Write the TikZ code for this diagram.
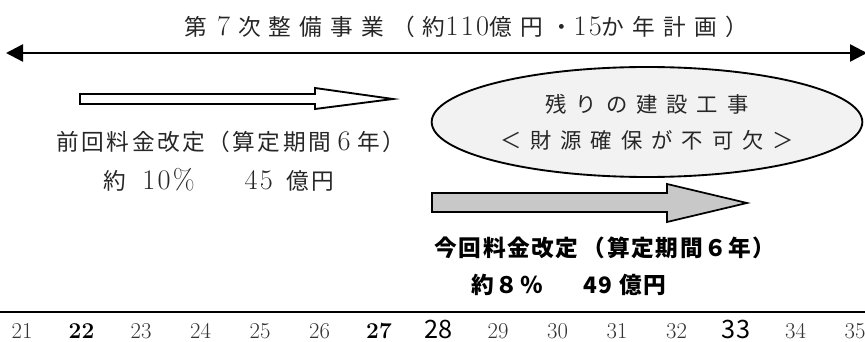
\documentclass[tikz,border=0pt]{standalone}
\usepackage{fontspec}
\usetikzlibrary{shapes.geometric,arrows.meta}
\newfontfamily\jfont{Noto Sans CJK JP}
\newfontfamily\jwide{Noto Sans CJK JP}[LetterSpace=36]
\newfontfamily\jloose{Noto Sans CJK JP}[LetterSpace=11]
\newfontfamily\jbold{Noto Sans CJK JP}[LetterSpace=7]
\newfontfamily\numfont{Latin Modern Roman}[Scale=1.25,LetterSpace=8]
\newcommand{\num}[1]{{\numfont #1}}
\newcommand{\gap}{\hspace{0.42em}}
\definecolor{ovalfill}{HTML}{F2F2F2}
\definecolor{bargray}{HTML}{C8C8C8}

\tikzset{
  titleline/.style={font=\jwide\fontsize{17}{20}\selectfont, inner sep=0pt, text=black!85},
  serifline/.style={font=\jloose\fontsize{17}{20}\selectfont, inner sep=0pt, text=black!85},
  boldline/.style={font=\jbold\bfseries\fontsize{17}{20}\selectfont, inner sep=0pt},
  yearlabel/.style={font=\fontsize{17}{18}\selectfont, inner sep=0pt, anchor=base, text=black!80},
  yearbold/.style={font=\bfseries\fontsize{17}{18}\selectfont, inner sep=0pt, anchor=base},
  yearsans/.style={font=\jfont\fontsize{19}{20}\selectfont, inner sep=0pt, anchor=base},
}

\begin{document}
\begin{tikzpicture}[x=0.75pt,y=-0.75pt]
  \useasboundingbox (0,0) rectangle (865,342);

  % whole programme
  \node[titleline] (title) at (466,27)
    {第\hspace{0.45em}\num{7}\hspace{0.35em}次整備事業（約\num{110}億円・\num{15}か年計画）};
  \coordinate (spanL) at (6,53);
  \coordinate (spanR) at (867,53);
  \draw[line width=1.9pt, {Triangle[length=12.75pt,width=12.75pt]}-{Triangle[length=12.75pt,width=12.75pt]}] (spanL) -- (spanR);

  % previous revision
  \draw[line width=1.4pt] (80,94) -- (315,94) -- (315,88) -- (393,99) -- (315,109) -- (315,104) -- (80,104) -- cycle;
  \node[serifline] (prevlabel) at (231,142) {前回料金改定（算定期間\hspace{0.3em}\num{6}\hspace{0.3em}年）};
  \node[serifline] (prevamount) at (219,180) {約\hspace{0.7em}\num{10\%}\hspace{2.2em}\num{45}\hspace{0.6em}億円};

  % remaining works
  \node[ellipse, draw, line width=1.4pt, fill=ovalfill, minimum width=323pt, minimum height=82.5pt,
        inner sep=0pt, align=center, font=\jfont\fontsize{16}{27}\selectfont, text=black!85]
    (remaining) at (647,122)
    {残\gap り\gap の\gap 建\gap 設\gap 工\gap 事\\＜\gap 財\gap 源\gap 確\gap 保\gap が\gap 不\gap 可\gap 欠\gap ＞};

  % current revision
  \draw[line width=1.3pt, fill=bargray] (432,193) -- (667,193) -- (667,184) -- (747,203) -- (667,222) -- (667,212) -- (432,212) -- cycle;
  \node[boldline] (currlabel) at (605,248) {今回料金改定\hspace{0.2em}（算定期間６年）};
  \node[boldline] (curramount) at (569,285) {約８％\hspace{1.8em}49 億円};

  % time axis
  \coordinate (axisL) at (0,312);
  \coordinate (axisR) at (865,312);
  \draw[line width=2.2pt] (axisL) -- (axisR);
  \foreach \yr/\sty in {21/yearlabel,22/yearbold,23/yearlabel,24/yearlabel,25/yearlabel,
                        26/yearlabel,27/yearbold,28/yearsans,29/yearlabel,30/yearlabel,
                        31/yearlabel,32/yearlabel,33/yearsans,34/yearlabel,35/yearlabel}
    \node[\sty] (y\yr) at ({22+59.5*(\yr-21)},339) {\yr};
\end{tikzpicture}
\end{document}
